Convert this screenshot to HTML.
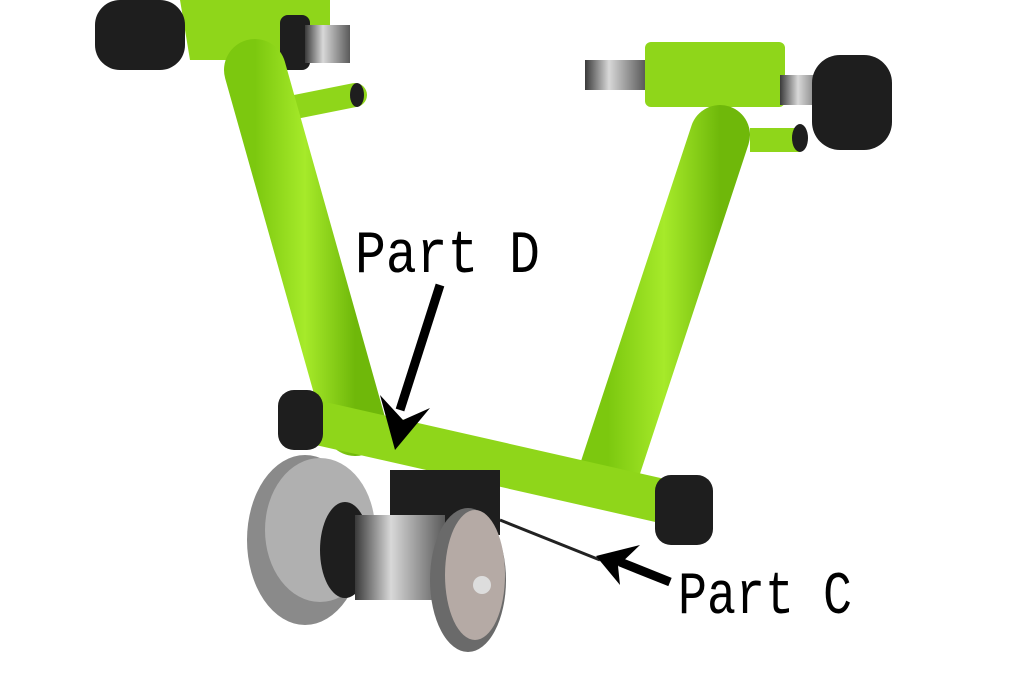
<!DOCTYPE html>
<html><head><meta charset="utf-8"><style>
html,body{margin:0;padding:0;background:#fff;width:1023px;height:678px;overflow:hidden}
</style></head><body>
<svg width="1023" height="678" viewBox="0 0 1023 678" xmlns="http://www.w3.org/2000/svg">
<defs>
<linearGradient id="g" x1="0" y1="0" x2="1" y2="0">
<stop offset="0" stop-color="#7cc80f"/><stop offset="0.5" stop-color="#a6ea2a"/><stop offset="1" stop-color="#6fb80a"/></linearGradient>
<linearGradient id="m" x1="0" y1="0" x2="1" y2="0">
<stop offset="0" stop-color="#3a3a3a"/><stop offset="0.4" stop-color="#d8d8d8"/><stop offset="1" stop-color="#5a5a5a"/></linearGradient>
</defs>
<path d="M180 0 L330 0 L330 60 L190 60 Z" fill="#8fd61a"/>
<rect x="95" y="0" width="90" height="70" rx="25" fill="#1e1e1e"/>
<rect x="280" y="15" width="30" height="55" rx="8" fill="#1e1e1e"/>
<rect x="305" y="25" width="45" height="38" fill="url(#m)"/>
<line x1="280" y1="110" x2="355" y2="95" stroke="#8fd61a" stroke-width="24" stroke-linecap="round"/>
<ellipse cx="357" cy="95" rx="7" ry="12" fill="#1e1e1e"/>
<line x1="255" y1="70" x2="355" y2="425" stroke="url(#g)" stroke-width="62" stroke-linecap="round"/>
<rect x="645" y="42" width="140" height="65" rx="6" fill="#8fd61a"/>
<rect x="585" y="60" width="60" height="30" fill="url(#m)"/>
<rect x="780" y="75" width="45" height="30" fill="url(#m)"/>
<rect x="812" y="55" width="80" height="95" rx="28" fill="#1e1e1e"/>
<line x1="750" y1="140" x2="800" y2="140" stroke="#8fd61a" stroke-width="24"/>
<ellipse cx="800" cy="138" rx="8" ry="14" fill="#1e1e1e"/>
<line x1="720" y1="135" x2="608" y2="475" stroke="url(#g)" stroke-width="60" stroke-linecap="round"/>
<line x1="305" y1="420" x2="680" y2="505" stroke="#8fd61a" stroke-width="44" stroke-linecap="round"/>
<rect x="278" y="390" width="45" height="60" rx="16" fill="#1e1e1e"/>
<rect x="655" y="475" width="58" height="70" rx="16" fill="#1e1e1e"/>
<rect x="390" y="470" width="110" height="65" fill="#1e1e1e"/>
<ellipse cx="305" cy="540" rx="58" ry="85" fill="#8a8a8a"/>
<ellipse cx="320" cy="530" rx="55" ry="72" fill="#b0b0b0"/>
<ellipse cx="345" cy="550" rx="25" ry="48" fill="#1e1e1e"/>
<rect x="355" y="515" width="90" height="85" fill="url(#m)"/>
<ellipse cx="468" cy="580" rx="38" ry="72" fill="#6a6a6a"/>
<ellipse cx="475" cy="575" rx="30" ry="65" fill="#b5aaa5"/>
<circle cx="482" cy="585" r="9" fill="#ddd"/>
<line x1="500" y1="520" x2="600" y2="560" stroke="#222" stroke-width="3"/>
<line x1="440" y1="285" x2="400" y2="410" stroke="#000" stroke-width="9"/>
<path d="M380 395 L395 450 L430 408 L403 420 Z" fill="#000"/>
<line x1="670" y1="582" x2="620" y2="562" stroke="#000" stroke-width="9"/>
<path d="M640 545 L596 556 L620 585 L618 566 Z" fill="#000"/>
<text x="355" y="272" font-family="Liberation Mono, monospace" font-size="60" textLength="185" lengthAdjust="spacingAndGlyphs" fill="#000">Part D</text>
<text x="678" y="613" font-family="Liberation Mono, monospace" font-size="60" textLength="174" lengthAdjust="spacingAndGlyphs" fill="#000">Part C</text>
</svg>
</body></html>
